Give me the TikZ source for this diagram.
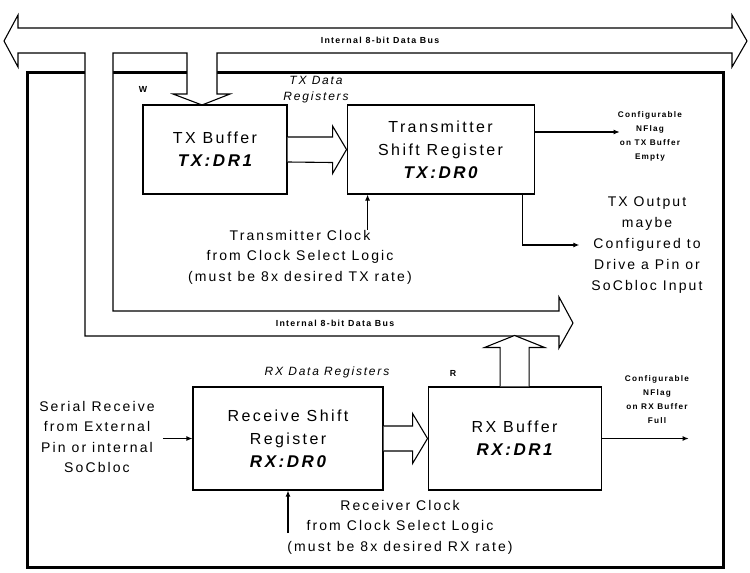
\documentclass[tikz,border=0pt]{standalone}
\usepackage{fontspec}
\setmainfont{Liberation Sans}[LetterSpace=15]
\usetikzlibrary{arrows.meta,positioning,calc}
\newcommand{\regid}[1]{{\fontsize{17}{23}\selectfont\bfseries\itshape #1}}

\begin{document}
\begin{tikzpicture}[
  x=1pt, y=-1pt,
  block/.style={rectangle, draw, line width=1.1pt, fill=white, align=center,
                inner sep=0pt, font=\fontsize{16}{23}\selectfont},
  note/.style={align=center, inner sep=0pt, font=\fontsize{14}{20.5}\selectfont},
  flagnote/.style={align=center, inner sep=0pt, font=\fontsize{8.2}{14}\selectfont\bfseries},
  buslabel/.style={inner sep=0pt, font=\fontsize{8.8}{10}\selectfont\bfseries},
  reglabel/.style={align=center, inner sep=0pt, font=\fontsize{12}{16}\selectfont\itshape},
  busline/.style={line width=1.1pt, fill=white, line join=miter},
  sigarrow/.style={-{Latex[length=6pt,width=5pt]}, line width=1.1pt}
]
  \useasboundingbox (0,0) rectangle (750,573);

  % Outer frame
  \draw[line width=3pt] (27,72) rectangle (723,567);

  % Internal data bus (top, left pipe and middle run)
  \draw[busline] (4,41) -- (18,15) -- (18,28) -- (732,28) -- (732,15) -- (747,41)
    -- (732,67) -- (732,53) -- (217,53) -- (217,94) -- (230,94) -- (202,105)
    -- (173,94) -- (187,94) -- (187,53) -- (113,53) -- (113,311) -- (559,311)
    -- (559,297) -- (573,323) -- (559,348) -- (559,336) -- (85,336) -- (85,53)
    -- (18,53) -- (18,67) -- cycle;
  \node[buslabel] (topbus) at (380,40) {Internal 8-bit Data Bus};
  \node[buslabel] (midbus) at (335,323) {Internal 8-bit Data Bus};

  % Nodes
  \node[block, minimum width=144pt, minimum height=89pt] (txbuf) at (215,149.5)
    {TX Buffer\\\regid{TX:DR1}};
  \node[block, minimum width=187pt, minimum height=89pt, right=59pt of txbuf] (txshift)
    {Transmitter\\Shift Register\\\regid{TX:DR0}};
  \node[block, minimum width=190pt, minimum height=103pt] (rxshift) at (288,438.5)
    {Receive Shift\\Register\\\regid{RX:DR0}};
  \node[block, minimum width=173pt, minimum height=103pt, right=44pt of rxshift] (rxbuf)
    {RX Buffer\\\regid{RX:DR1}};

  \node[reglabel] (txregs) at (316,90) {TX Data\\Registers};
  \node[reglabel] (rxregs) at (327,372) {RX Data Registers};
  \node[buslabel] (wlbl) at (143,89) {W};
  \node[buslabel] (rlbl) at (453,373) {R};

  \node[flagnote] (txflag) at (650,136.5) {Configurable\\NFlag\\on TX Buffer\\Empty};
  \node[flagnote] (rxflag) at (657,399.5) {Configurable\\NFlag\\on RX Buffer\\Full};
  \node[note, font=\fontsize{14}{21}\selectfont] (txout) at (647,245)
    {TX Output\\maybe\\Configured to\\Drive a Pin or\\SoCbloc Input};
  \node[note] (txclk) at (300,257)
    {Transmitter Clock\\from Clock Select Logic\\(must be 8x desired TX rate)};
  \node[note] (rxclk) at (400,527)
    {Receiver Clock\\from Clock Select Logic\\(must be 8x desired RX rate)};
  \node[note] (serial) at (97,437)
    {Serial Receive\\from External\\Pin or internal\\SoCbloc};

  % Wide data arrows
  \draw[busline] ($(txbuf.east)+(0,-12.5)$) -- ++(45,0) -- ++(0,-11) -- (txshift.west)
    -- ($(txbuf.east)+(45,24)$) -- ++(0,-11) -- ($(txbuf.east)+(0,12.5)$);
  \draw[busline] ($(rxshift.east)+(0,-12.5)$) -- ++(29,0) -- ++(0,-12.5) -- (rxbuf.west)
    -- ($(rxshift.east)+(29,25)$) -- ++(0,-12.5) -- ($(rxshift.east)+(0,12.5)$);
  \draw[busline] ($(rxbuf.north)+(-14.5,0)$) -- ++(0,-39) -- ++(-15.5,0)
    -- ($(rxbuf.north)+(0,-51)$) -- ($(rxbuf.north)+(30,-39)$) -- ++(-15.5,0)
    -- ($(rxbuf.north)+(14.5,0)$);

  % Signal arrows
  \coordinate (txflagpt) at ($(txshift.east)+(85,-17.5)$);
  \coordinate (rxflagpt) at ($(rxbuf.east)+(87,0)$);
  \coordinate (txclkin) at ($(txshift.south west)+(21,0)$);
  \draw[sigarrow] (txshift.east |- txflagpt) -- (txflagpt);
  \draw[sigarrow] ($(txshift.south east)+(-12,0)$) |- ([xshift=-12pt]txout.west);
  \draw[sigarrow] (txclkin |- txclk.north) -- (txclkin);
  \draw[sigarrow] ($(rxshift.south |- rxclk.west)+(0,6)$) -- (rxshift.south);
  \draw[sigarrow] ([xshift=8pt]serial.east |- rxshift.west) -- (rxshift.west);
  \draw[sigarrow] (rxbuf.east) -- (rxflagpt);
\end{tikzpicture}
\end{document}
